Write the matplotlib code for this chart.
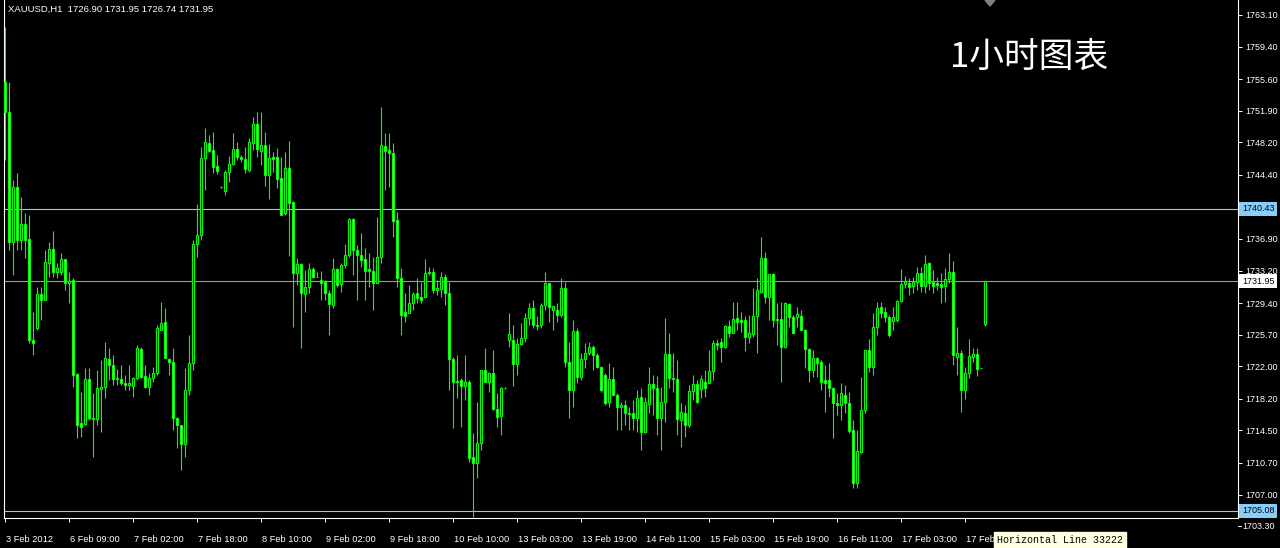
import numpy as np
import matplotlib.pyplot as plt
from matplotlib import transforms

# XAUUSD H1 candles, bar 0 = 3 Feb 2012
open_ = [
    1755.27, 1751.76, 1736.55, 1742.98, 1736.78, 1738.65, 1736.90, 1725.08, 1726.48, 1730.46,
    1729.76, 1734.09, 1735.73, 1733.04, 1733.04, 1734.56, 1731.75, 1732.10, 1721.10, 1715.37,
    1715.25, 1720.52, 1715.95, 1715.84, 1719.35, 1719.58, 1722.86, 1722.16, 1720.52, 1720.50,
    1720.00, 1719.80, 1719.70, 1720.63, 1724.03, 1720.87, 1719.58, 1720.63, 1721.22, 1726.25,
    1727.19, 1722.86, 1722.51, 1715.95, 1715.13, 1712.91, 1719.23, 1722.39, 1736.31, 1737.37,
    1746.37, 1748.13, 1747.31, 1745.44, 1743.00, 1742.51, 1744.73, 1745.67, 1747.43, 1746.49,
    1746.26, 1744.97, 1748.13, 1750.35, 1747.19, 1747.90, 1744.39, 1746.49, 1746.49, 1744.03,
    1739.94, 1745.20, 1741.23, 1732.92, 1733.97, 1730.46, 1731.28, 1733.39, 1732.45, 1732.10,
    1731.87, 1730.58, 1729.18, 1733.39, 1731.63, 1733.86, 1735.03, 1739.24, 1735.61, 1735.03,
    1734.56, 1733.39, 1733.15, 1731.75, 1734.79, 1747.78, 1747.31, 1746.96, 1739.12, 1732.33,
    1728.36, 1728.24, 1729.41, 1730.58, 1730.11, 1730.11, 1732.92, 1733.04, 1730.93, 1731.04,
    1732.45, 1730.58, 1722.86, 1720.17, 1720.40, 1719.70, 1720.17, 1711.39, 1710.69, 1713.03,
    1721.57, 1720.17, 1721.22, 1717.01, 1716.19, 1719.46, 1725.08, 1725.08, 1722.27, 1724.61,
    1725.31, 1727.65, 1728.82, 1726.84, 1726.84, 1729.18, 1731.75, 1728.59, 1728.59, 1728.00,
    1731.16, 1722.51, 1719.23, 1726.13, 1720.75, 1722.86, 1723.56, 1724.26, 1723.32, 1721.92,
    1720.99, 1717.83, 1720.52, 1718.65, 1717.24, 1717.47, 1716.54, 1716.54, 1715.95, 1718.41,
    1714.32, 1717.59, 1719.93, 1719.46, 1715.95, 1717.83, 1723.44, 1720.63, 1720.52, 1715.72,
    1716.54, 1715.13, 1719.11, 1719.93, 1719.35, 1720.17, 1720.05, 1721.45, 1724.73, 1724.85,
    1724.26, 1726.72, 1725.90, 1727.65, 1727.42, 1727.42, 1725.43, 1725.78, 1727.89, 1730.70,
    1734.67, 1730.11, 1732.80, 1727.42, 1727.54, 1724.26, 1729.29, 1727.77, 1727.77, 1727.89,
    1726.25, 1724.03, 1721.57, 1722.97, 1722.51, 1720.40, 1720.40, 1719.46, 1717.71, 1717.47,
    1718.65, 1717.71, 1714.55, 1708.35, 1711.97, 1716.89, 1723.91, 1721.92, 1726.60, 1728.94,
    1728.36, 1727.77, 1727.30, 1727.42, 1729.64, 1731.63, 1731.75, 1731.40, 1731.87, 1732.92,
    1731.40, 1734.09, 1731.87, 1731.75, 1731.63, 1731.40, 1732.22, 1733.04, 1723.09, 1723.56,
    1719.23, 1721.22, 1723.09, 1723.44, 1721.80, 1726.90]

high = [
    1761.70, 1755.27, 1743.80, 1744.62, 1741.81, 1739.94, 1739.70, 1728.36, 1731.28, 1731.28,
    1735.61, 1736.55, 1737.83, 1734.09, 1735.26, 1734.56, 1733.04, 1732.33, 1721.22, 1719.00,
    1721.80, 1721.80, 1718.88, 1721.57, 1722.74, 1724.85, 1724.14, 1723.32, 1721.69, 1722.16,
    1720.99, 1722.16, 1720.75, 1724.50, 1724.26, 1722.16, 1721.22, 1721.92, 1726.84, 1729.53,
    1728.82, 1722.97, 1724.14, 1716.07, 1715.13, 1721.80, 1725.66, 1736.78, 1741.01, 1747.66,
    1749.88, 1749.07, 1749.42, 1746.72, 1743.10, 1744.97, 1746.61, 1749.30, 1748.25, 1746.72,
    1747.66, 1748.71, 1751.17, 1751.76, 1751.76, 1749.42, 1748.01, 1747.08, 1747.54, 1746.49,
    1747.08, 1748.36, 1741.34, 1734.67, 1734.09, 1733.27, 1734.09, 1733.62, 1733.04, 1733.15,
    1732.10, 1730.93, 1734.67, 1733.50, 1734.09, 1736.31, 1739.35, 1739.35, 1736.20, 1737.60,
    1735.84, 1735.26, 1734.79, 1739.47, 1752.34, 1749.30, 1749.30, 1748.13, 1740.06, 1733.50,
    1730.58, 1731.51, 1730.70, 1732.33, 1731.87, 1734.56, 1733.62, 1733.50, 1732.10, 1733.04,
    1732.80, 1731.87, 1723.09, 1723.32, 1720.63, 1723.32, 1720.40, 1714.20, 1717.83, 1721.57,
    1724.14, 1721.34, 1723.91, 1718.88, 1719.58, 1719.60, 1728.24, 1726.84, 1725.31, 1727.07,
    1728.24, 1729.41, 1729.76, 1727.89, 1729.41, 1733.04, 1731.75, 1729.06, 1729.41, 1732.33,
    1731.87, 1724.85, 1727.42, 1726.48, 1723.56, 1724.73, 1724.85, 1724.50, 1723.56, 1722.04,
    1721.22, 1722.39, 1721.92, 1718.88, 1717.83, 1718.06, 1717.24, 1718.06, 1719.23, 1719.46,
    1718.41, 1721.92, 1720.99, 1720.87, 1719.58, 1727.65, 1725.90, 1723.56, 1722.74, 1717.71,
    1717.47, 1719.81, 1720.99, 1720.40, 1720.99, 1721.57, 1723.91, 1725.08, 1725.20, 1725.31,
    1726.84, 1727.42, 1729.53, 1729.53, 1728.36, 1727.89, 1728.00, 1731.16, 1732.33, 1737.13,
    1735.38, 1732.80, 1732.92, 1729.41, 1729.53, 1729.53, 1729.41, 1728.00, 1728.94, 1728.59,
    1726.37, 1724.14, 1723.91, 1723.09, 1722.74, 1722.16, 1722.39, 1719.58, 1718.88, 1720.05,
    1719.81, 1719.00, 1715.72, 1714.55, 1720.75, 1723.91, 1725.20, 1728.24, 1729.53, 1729.53,
    1728.94, 1728.00, 1728.94, 1729.76, 1733.39, 1732.57, 1732.33, 1732.45, 1733.62, 1733.62,
    1735.03, 1734.21, 1733.27, 1732.45, 1732.92, 1733.50, 1735.26, 1734.32, 1726.60, 1723.91,
    1721.92, 1725.20, 1724.14, 1724.14, 1721.85, 1731.95]

low = [
    1746.14, 1735.61, 1732.68, 1735.61, 1735.61, 1734.67, 1724.73, 1723.32, 1726.25, 1727.42,
    1729.76, 1732.45, 1732.45, 1732.33, 1732.68, 1730.93, 1729.41, 1719.58, 1713.61, 1713.73,
    1715.13, 1715.72, 1711.39, 1715.13, 1714.32, 1718.29, 1720.40, 1719.81, 1719.81, 1719.81,
    1719.23, 1719.23, 1718.41, 1720.40, 1720.63, 1719.46, 1718.65, 1720.17, 1720.99, 1726.25,
    1722.97, 1720.99, 1714.55, 1712.44, 1709.87, 1711.39, 1718.65, 1721.57, 1734.79, 1736.78,
    1742.63, 1747.08, 1744.62, 1744.50, 1742.90, 1742.05, 1743.57, 1745.56, 1746.14, 1745.91,
    1744.62, 1744.73, 1747.31, 1746.49, 1745.56, 1743.10, 1741.58, 1744.73, 1742.86, 1739.70,
    1739.70, 1734.91, 1726.60, 1731.51, 1724.14, 1728.36, 1730.58, 1732.33, 1732.45, 1729.76,
    1729.76, 1725.66, 1728.82, 1731.28, 1730.70, 1733.50, 1734.79, 1732.68, 1729.76, 1733.62,
    1729.76, 1731.28, 1728.59, 1731.75, 1734.09, 1742.63, 1742.98, 1737.13, 1731.28, 1725.66,
    1727.19, 1728.24, 1728.59, 1729.41, 1729.41, 1730.00, 1732.68, 1730.58, 1730.35, 1730.11,
    1729.18, 1719.23, 1714.78, 1718.29, 1714.90, 1718.06, 1710.81, 1704.37, 1708.93, 1712.21,
    1720.17, 1719.00, 1716.89, 1714.90, 1713.96, 1719.40, 1724.26, 1719.70, 1720.99, 1724.50,
    1724.85, 1726.84, 1726.48, 1726.25, 1726.48, 1728.59, 1727.19, 1726.25, 1727.19, 1727.77,
    1721.92, 1715.95, 1717.24, 1720.05, 1720.40, 1721.80, 1723.32, 1721.57, 1721.80, 1719.00,
    1717.47, 1717.24, 1718.65, 1714.55, 1714.55, 1715.13, 1714.55, 1714.55, 1714.32, 1712.21,
    1714.20, 1716.54, 1716.31, 1713.96, 1712.21, 1715.49, 1719.46, 1719.00, 1713.96, 1712.56,
    1713.73, 1714.90, 1718.06, 1717.71, 1718.29, 1718.41, 1720.05, 1720.40, 1723.91, 1722.51,
    1724.14, 1725.43, 1725.90, 1726.25, 1726.02, 1723.79, 1724.73, 1725.43, 1723.56, 1730.58,
    1729.41, 1727.42, 1726.60, 1724.50, 1720.17, 1724.14, 1726.60, 1725.90, 1726.60, 1726.25,
    1721.80, 1720.17, 1720.75, 1720.75, 1719.23, 1716.66, 1718.41, 1713.61, 1716.31, 1715.72,
    1716.54, 1714.20, 1707.76, 1707.76, 1711.86, 1716.54, 1721.34, 1720.99, 1725.66, 1727.65,
    1727.19, 1725.43, 1726.25, 1727.19, 1729.53, 1731.16, 1730.35, 1730.58, 1730.93, 1730.70,
    1730.58, 1730.93, 1730.58, 1730.93, 1729.41, 1729.53, 1731.75, 1722.16, 1720.99, 1716.66,
    1718.18, 1720.63, 1722.51, 1720.87, 1721.75, 1726.74]

close = [
    1751.76, 1736.55, 1742.98, 1736.78, 1738.65, 1736.78, 1725.08, 1724.73, 1730.46, 1729.76,
    1734.21, 1735.73, 1733.04, 1733.50, 1734.56, 1731.75, 1731.98, 1720.99, 1715.13, 1714.90,
    1720.52, 1715.95, 1715.84, 1719.46, 1719.58, 1722.97, 1722.16, 1720.52, 1720.60, 1720.00,
    1719.81, 1720.00, 1720.63, 1724.14, 1720.75, 1719.58, 1720.63, 1721.22, 1726.48, 1727.07,
    1722.97, 1722.51, 1715.95, 1715.13, 1712.91, 1719.23, 1722.39, 1736.31, 1737.37, 1746.37,
    1748.25, 1747.19, 1745.32, 1744.85, 1742.98, 1744.73, 1745.67, 1747.43, 1746.49, 1746.26,
    1745.09, 1748.25, 1750.35, 1747.43, 1747.90, 1744.39, 1746.37, 1746.26, 1743.92, 1739.70,
    1745.20, 1741.11, 1732.92, 1733.97, 1730.58, 1731.28, 1733.39, 1732.45, 1732.50, 1731.75,
    1730.58, 1729.29, 1733.39, 1731.51, 1733.86, 1735.03, 1739.24, 1735.61, 1735.03, 1734.44,
    1733.15, 1733.15, 1731.75, 1734.79, 1747.90, 1747.19, 1746.96, 1739.00, 1732.33, 1728.00,
    1727.89, 1729.41, 1730.46, 1730.00, 1729.76, 1732.92, 1733.04, 1730.93, 1731.16, 1732.45,
    1730.58, 1722.86, 1720.17, 1720.28, 1719.70, 1720.17, 1711.27, 1710.69, 1713.03, 1721.57,
    1720.17, 1721.22, 1717.01, 1716.07, 1719.46, 1719.50, 1725.78, 1722.27, 1724.61, 1725.31,
    1727.65, 1728.82, 1726.84, 1726.72, 1729.18, 1731.75, 1728.94, 1729.06, 1728.00, 1731.16,
    1722.51, 1719.23, 1726.13, 1720.75, 1722.86, 1723.56, 1724.26, 1723.32, 1721.92, 1719.23,
    1717.71, 1720.52, 1718.65, 1717.24, 1717.47, 1716.54, 1716.42, 1715.95, 1718.29, 1714.32,
    1717.83, 1719.93, 1719.46, 1715.95, 1717.83, 1723.44, 1720.63, 1720.52, 1715.84, 1716.66,
    1715.13, 1719.11, 1719.93, 1717.83, 1720.52, 1719.46, 1721.45, 1724.73, 1724.50, 1724.26,
    1726.72, 1725.90, 1727.54, 1727.19, 1727.19, 1725.43, 1725.90, 1727.89, 1730.93, 1734.67,
    1730.11, 1732.80, 1727.42, 1727.54, 1724.26, 1729.41, 1727.77, 1725.90, 1728.12, 1726.25,
    1724.03, 1721.57, 1722.97, 1722.39, 1720.17, 1720.05, 1719.46, 1717.71, 1717.47, 1718.88,
    1717.71, 1714.43, 1708.35, 1712.09, 1716.89, 1723.91, 1721.92, 1726.60, 1728.82, 1728.24,
    1727.77, 1725.66, 1727.77, 1729.64, 1731.63, 1731.87, 1731.28, 1731.87, 1732.92, 1731.40,
    1733.97, 1731.75, 1731.40, 1731.51, 1731.28, 1732.22, 1733.04, 1723.32, 1723.56, 1719.23,
    1721.22, 1723.21, 1723.44, 1721.69, 1721.80, 1731.95]

# time labels every 16 bars (the last one is cut by the tooltip)
time_labels = ['3 Feb 2012', '6 Feb 09:00', '7 Feb 02:00', '7 Feb 18:00', '8 Feb 10:00',
               '9 Feb 02:00', '9 Feb 18:00', '10 Feb 10:00', '13 Feb 03:00', '13 Feb 19:00',
               '14 Feb 11:00', '15 Feb 03:00', '15 Feb 19:00', '16 Feb 11:00', '17 Feb 03:00',
               '17 Feb']
price_ticks = [1763.10, 1759.40, 1755.60, 1751.90, 1748.20, 1744.40, 1736.90, 1733.20,
               1729.40, 1725.70, 1722.00, 1718.20, 1714.50, 1710.70, 1707.00]
bottom_tick = 1703.30

# horizontal lines
line_hi = 1740.43
line_lo = 1705.08
bid = 1731.95

W, H = 1280, 548
fig = plt.figure(figsize=(W / 100, H / 100), dpi=100, facecolor='black')
ax = fig.add_axes([4 / W, 1 - 518 / H, (1238 - 4) / W, 518 / H])
ax.set_facecolor('black')

o = np.array(open_)
hi = np.array(high)
lo = np.array(low)
c = np.array(close)
x = np.arange(len(c))
bull = c > o

green = '#00ff00'
ax.axhline(line_hi, color='#87cefa', lw=0.8, zorder=1)
ax.axhline(line_lo, color='#87cefa', lw=0.8, zorder=1)
ax.axhline(bid, color='#9a9a9a', lw=0.8, zorder=1)

ax.vlines(x, lo, hi, color=green, lw=0.8, zorder=3)
ax.bar(x[bull], (c - o)[bull], bottom=o[bull], width=0.5,
       facecolor='black', edgecolor=green, lw=0.8, zorder=4)
ax.bar(x[~bull], (o - c)[~bull], bottom=c[~bull], width=0.5,
       facecolor='#8cff8c', edgecolor=green, lw=0.8, zorder=4)

ax.set_xlim(-0.25, 308.25)
ax.set_ylim(1704.26, 1764.85)

# axes look
for s in ['left', 'right', 'bottom']:
    ax.spines[s].set_color('white')
    ax.spines[s].set_linewidth(0.8)
ax.spines['top'].set_visible(False)

lab_font = 'Liberation Sans'
ax.yaxis.tick_right()
ax.set_yticks(price_ticks)
ax.set_yticklabels([f'{v:.2f}' for v in price_ticks], family=lab_font)
ax.tick_params(axis='y', colors='white', labelsize=6.5, length=3, width=0.7, pad=2)

ax.set_xticks(np.arange(len(time_labels)) * 16)
ax.set_xticklabels(time_labels, ha='left', family=lab_font)
ax.tick_params(axis='x', colors='white', labelsize=6.7, length=3, width=0.7, pad=9)
shift = transforms.ScaledTranslation(1 / 100, 0, fig.dpi_scale_trans)
for t in ax.get_xticklabels():
    t.set_transform(t.get_transform() + shift)

# price labels on the right scale
trans = transforms.blended_transform_factory(ax.transAxes, ax.transData)
off = transforms.ScaledTranslation(4 / 100, 0, fig.dpi_scale_trans)
for val, fc in [(line_hi, '#87cefa'), (line_lo, '#87cefa'), (bid, 'white')]:
    ax.text(1.0, val, f'{val:.2f}', transform=trans + off, ha='left', va='center',
            fontsize=6.5, family=lab_font, color='black', clip_on=False, zorder=6,
            bbox=dict(boxstyle='square,pad=0.3', fc=fc, ec='none'))
ax.text(1.0, bottom_tick, f'{bottom_tick:.2f}', transform=trans + off, ha='left',
        va='center', fontsize=6.5, family=lab_font, color='white', clip_on=False)
ax.plot([1.0, 1.0025], [bottom_tick, bottom_tick], transform=trans, color='white',
        lw=0.7, clip_on=False)

# header and annotations
fig.text(8 / W, 1 - 9 / H, 'XAUUSD,H1  1726.90 1731.95 1726.74 1731.95',
         color='white', fontsize=6.8, family=lab_font, va='center')
fig.text(950 / W, 1 - 57 / H, '1小时图表', family=['Noto Sans CJK SC'],
         fontsize=25, color='white', va='center')
fig.text(997 / W, 1 - 540 / H, 'Horizontal Line 33222', family='Liberation Mono',
         fontsize=7.2, color='black', va='center',
         bbox=dict(boxstyle='square,pad=0.3', fc='#ffffe1', ec='#ffffe1'))
fig.add_artist(plt.Polygon([[985 / W, 1], [995 / W, 1], [990 / W, 1 - 6 / H]],
                           transform=fig.transFigure, color='#808080'))

fig.savefig('out.png', dpi=100, facecolor='black')
